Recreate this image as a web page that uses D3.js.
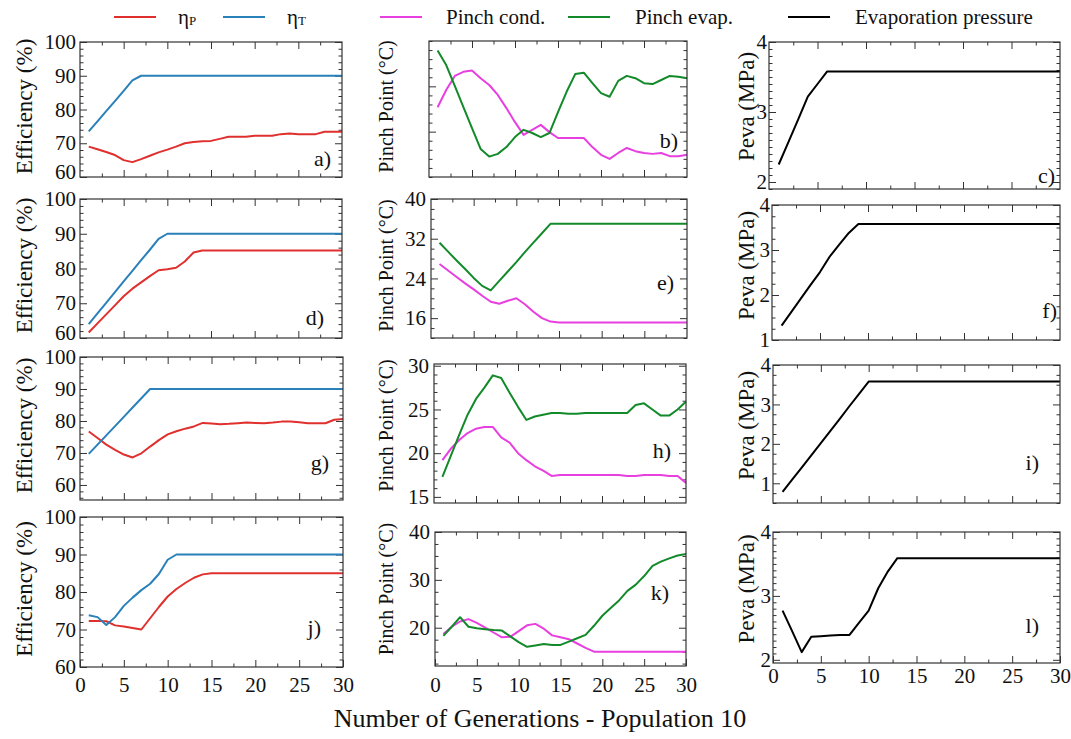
<!DOCTYPE html>
<html>
<head>
<meta charset="utf-8">
<script src="https://cdn.jsdelivr.net/npm/d3@7"></script>
<style>
  body { margin: 0; background: #fff; }
  svg text { font-family: "Liberation Serif", "Times New Roman", serif; fill: #111; }
  .frame { fill: none; stroke: #333; stroke-width: 1.2; }
  .axis line { stroke: #333; stroke-width: 1; }
  .axis path { display: none; }
  .series { fill: none; stroke-width: 2; stroke-linejoin: round; }
</style>
</head>
<body>
<div id="chart"></div>
<script>
// Generations on the x axis
const generations = [1,2,3,4,5,6,7,8,9,10,11,12,13,14,15,16,17,18,19,20,21,22,23,24,25,26,27,28,29,30];
const xTicks = [0, 5, 10, 15, 20, 25, 30];

// Row 1
const etaP_a = [69.0,68.2,67.4,66.5,65.0,64.4,65.3,66.3,67.3,68.1,69.0,70.0,70.4,70.6,70.7,71.3,71.9,71.9,71.9,72.2,72.2,72.2,72.7,72.9,72.7,72.7,72.7,73.4,73.4,73.4];
const etaT_a = [73.5,76.5,79.5,82.5,85.5,88.6,90,90,90,90,90,90,90,90,90,90,90,90,90,90,90,90,90,90,90,90,90,90,90,90];
const pinchCond_b = [25.4,29.2,32.3,33.2,33.5,31.8,30.3,28.1,25.2,22.1,19.3,20.4,21.5,19.9,18.6,18.6,18.6,18.6,16.6,14.9,14.0,15.3,16.4,15.7,15.3,15.1,15.3,14.6,14.6,14.9];
const pinchEvap_b = [37.9,34.7,30.1,25.4,20.8,16.2,14.5,15.1,16.6,18.8,20.4,19.7,18.8,19.7,24.3,28.8,32.7,33.0,30.7,28.5,27.7,31.2,32.3,31.8,30.7,30.5,31.4,32.3,32.1,31.8];
const peva_c = [2.25,2.57,2.89,3.22,3.40,3.58,3.58,3.58,3.58,3.58,3.58,3.58,3.58,3.58,3.58,3.58,3.58,3.58,3.58,3.58,3.58,3.58,3.58,3.58,3.58,3.58,3.58,3.58,3.58,3.58];

// Row 2
const etaP_d = [61.6,64.2,66.8,69.4,72.0,74.2,76.0,77.8,79.5,79.8,80.2,82.0,84.6,85.2,85.2,85.2,85.2,85.2,85.2,85.2,85.2,85.2,85.2,85.2,85.2,85.2,85.2,85.2,85.2,85.2];
const etaT_d = [64.0,67.1,70.1,73.2,76.3,79.3,82.4,85.4,88.5,90,90,90,90,90,90,90,90,90,90,90,90,90,90,90,90,90,90,90,90,90];
const pinchCond_e = [26.9,25.6,24.3,23.0,21.8,20.5,19.3,18.9,19.5,20.0,18.8,17.3,16.0,15.3,15.1,15.1,15.1,15.1,15.1,15.1,15.1,15.1,15.1,15.1,15.1,15.1,15.1,15.1,15.1,15.1];
const pinchEvap_e = [31.2,29.4,27.6,25.9,24.1,22.5,21.6,23.5,25.4,27.3,29.3,31.2,33.1,35.0,35.0,35.0,35.0,35.0,35.0,35.0,35.0,35.0,35.0,35.0,35.0,35.0,35.0,35.0,35.0,35.0];
const peva_f = [1.32,1.62,1.92,2.22,2.51,2.85,3.12,3.38,3.58,3.58,3.58,3.58,3.58,3.58,3.58,3.58,3.58,3.58,3.58,3.58,3.58,3.58,3.58,3.58,3.58,3.58,3.58,3.58,3.58,3.58];

// Row 3
const etaP_g = [76.7,74.7,72.6,71.0,69.5,68.6,69.9,72.0,74.0,75.8,76.8,77.6,78.3,79.4,79.2,79.0,79.1,79.3,79.5,79.4,79.3,79.5,79.8,79.8,79.6,79.3,79.3,79.3,80.4,80.6];
const etaT_g = [69.7,72.6,75.5,78.4,81.3,84.2,87.1,90,90,90,90,90,90,90,90,90,90,90,90,90,90,90,90,90,90,90,90,90,90,90];
const pinchCond_h = [19.2,20.5,21.5,22.3,22.8,23.0,23.0,21.8,21.2,20.0,19.2,18.5,18.0,17.4,17.5,17.5,17.5,17.5,17.5,17.5,17.5,17.5,17.4,17.4,17.5,17.5,17.5,17.4,17.4,16.6];
const pinchEvap_h = [17.3,19.7,22.1,24.4,26.2,27.5,28.9,28.6,26.9,25.3,23.8,24.2,24.4,24.6,24.6,24.5,24.5,24.6,24.6,24.6,24.6,24.6,24.6,25.5,25.7,25.0,24.3,24.3,25.0,25.9];
const peva_i = [0.78,1.09,1.40,1.71,2.02,2.33,2.64,2.96,3.27,3.58,3.58,3.58,3.58,3.58,3.58,3.58,3.58,3.58,3.58,3.58,3.58,3.58,3.58,3.58,3.58,3.58,3.58,3.58,3.58,3.58];

// Row 4
const etaP_j = [72.3,72.3,72.2,71.1,70.8,70.4,70.0,73.0,76.0,78.8,80.8,82.4,83.8,84.7,85.0,85.0,85.0,85.0,85.0,85.0,85.0,85.0,85.0,85.0,85.0,85.0,85.0,85.0,85.0,85.0];
const etaT_j = [73.8,73.3,71.2,73.3,76.3,78.5,80.5,82.2,84.8,88.6,90,90,90,90,90,90,90,90,90,90,90,90,90,90,90,90,90,90,90,90];
const pinchCond_k = [18.7,20.2,21.3,21.8,21.0,20.0,19.0,18.0,18.1,19.3,20.5,20.8,19.8,18.4,18.0,17.6,16.7,15.8,15.0,15.0,15.0,15.0,15.0,15.0,15.0,15.0,15.0,15.0,15.0,15.0];
const pinchEvap_k = [18.3,20.2,22.2,20.2,19.9,19.7,19.5,19.4,18.2,17.0,16.0,16.3,16.6,16.4,16.4,17.1,17.8,18.5,20.4,22.5,24.1,25.7,27.7,29.0,30.8,32.9,33.8,34.5,35.1,35.4];
const peva_l = [2.77,2.45,2.12,2.36,2.37,2.38,2.39,2.39,2.58,2.77,3.12,3.38,3.59,3.59,3.59,3.59,3.59,3.59,3.59,3.59,3.59,3.59,3.59,3.59,3.59,3.59,3.59,3.59,3.59,3.59];

// Y tick values per panel
const effTicks = [60, 70, 80, 90, 100];
const pinchTicks_b = [20, 30];
const pinchTicks_e = [16, 24, 32, 40];
const pinchTicks_h = [15, 20, 25, 30];
const pinchTicks_k = [20, 30, 40];
const pevaTicks_c = [2, 3, 4];
const pevaTicks_f = [1, 2, 3, 4];
const pevaTicks_l = [2, 3, 4];

const colors = { etaP: '#e0302e', etaT: '#2a80b9', cond: '#e83fe0', evap: '#138a2a', peva: '#000' };

// Panel layout (pixel rectangles of the plot frames)
const panels = [
  { id: 'a)', r: [80, 42, 342, 177],  dom: [60, 100], ticks: effTicks, minor: 2, pad: 4, lowShift: -5, series: [[etaP_a, 'etaP'], [etaT_a, 'etaT']], lab: [331, 166] },
  { id: 'b)', r: [429, 41, 687, 177], dom: [10, 40], ticks: pinchTicks_b, minor: 2, pad: 5, noY: true, series: [[pinchCond_b, 'cond'], [pinchEvap_b, 'evap']], lab: [678, 148] },
  { id: 'c)', r: [769, 42, 1060, 189], dom: [1.9, 4], ticks: pevaTicks_c, minor: 0.1, pad: 2, series: [[peva_c, 'peva']], lab: [1055, 183] },

  { id: 'd)', r: [80, 199, 342, 338], dom: [60, 100], ticks: effTicks, minor: 2, pad: 4, lowShift: -5, series: [[etaP_d, 'etaP'], [etaT_d, 'etaT']], lab: [324, 325] },
  { id: 'e)', r: [431, 199, 687, 338], dom: [12, 40], ticks: pinchTicks_e, minor: 2, pad: 5, series: [[pinchCond_e, 'cond'], [pinchEvap_e, 'evap']], lab: [674, 290] },
  { id: 'f)', r: [772, 205, 1060, 340], dom: [1, 4], ticks: pevaTicks_f, minor: 0.25, pad: 2, series: [[peva_f, 'peva']], lab: [1057, 318] },

  { id: 'g)', r: [80, 357, 343, 500], dom: [55.3, 100], ticks: effTicks, minor: 2, pad: 4, series: [[etaP_g, 'etaP'], [etaT_g, 'etaT']], lab: [329, 470] },
  { id: 'h)', r: [434, 364, 686, 503], dom: [14.3, 30.2], ticks: pinchTicks_h, minor: 1, pad: 5, series: [[pinchCond_h, 'cond'], [pinchEvap_h, 'evap']], lab: [671, 458] },
  { id: 'i)', r: [773, 365, 1060, 503], dom: [0.5, 4], ticks: pevaTicks_f, minor: 0.25, pad: 2, series: [[peva_i, 'peva']], lab: [1039, 470] },

  { id: 'j)', r: [80, 517, 343, 667], dom: [60, 100], ticks: effTicks, minor: 2, pad: 4, series: [[etaP_j, 'etaP'], [etaT_j, 'etaT']], lab: [321, 635], xlab: 10 },
  { id: 'k)', r: [435, 532, 686, 666], dom: [12, 40], ticks: pinchTicks_k, minor: 2.5, pad: 5, series: [[pinchCond_k, 'cond'], [pinchEvap_k, 'evap']], lab: [669, 600], xlab: 11 },
  { id: 'l)', r: [773, 532, 1060, 663], dom: [1.95, 4], ticks: pevaTicks_l, minor: 0.1, pad: 2, series: [[peva_l, 'peva']], lab: [1039, 633], xlab: 5 }
];

const svg = d3.select('#chart').append('svg')
  .attr('width', 1071)
  .attr('height', 739);

function minorValues(dom, step, majors) {
  const out = [];
  const start = Math.ceil(dom[0] / step - 1e-9) * step;
  for (let v = start; v <= dom[1] + 1e-9; v += step) {
    const vv = +v.toFixed(4);
    if (!majors.some(m => Math.abs(m - vv) < 1e-6)) out.push(vv);
  }
  return out;
}

panels.forEach(p => {
  const [x0, y0, x1, y1] = p.r;
  const w = x1 - x0, h = y1 - y0;
  const g = svg.append('g').attr('transform', `translate(${x0},${y0})`);

  const x = d3.scaleLinear().domain([0, 30]).range([0, w]);
  const y = d3.scaleLinear().domain(p.dom).range([h, 0]);

  const xMinor = [2.5, 7.5, 12.5, 17.5, 22.5, 27.5];
  const xMajorIn = [5, 10, 15, 20, 25];
  const yMinor = minorValues(p.dom, p.minor, p.ticks);

  // bottom axis (labels only on the last row)
  g.append('g').attr('class', 'axis').attr('transform', `translate(0,${h})`)
    .call(d3.axisBottom(x).tickValues(p.xlab ? xTicks : xMajorIn).tickSizeInner(-7).tickSizeOuter(0)
      .tickPadding(p.xlab || 3).tickFormat(p.xlab ? d3.format('d') : ''))
    .call(s => s.selectAll('text').attr('font-size', 21));
  g.append('g').attr('class', 'axis').attr('transform', `translate(0,${h})`)
    .call(d3.axisBottom(x).tickValues(xMinor).tickSizeInner(-3.5).tickSizeOuter(0).tickFormat(''));

  // top axis
  g.append('g').attr('class', 'axis')
    .call(d3.axisTop(x).tickValues(xMajorIn).tickSizeInner(-7).tickSizeOuter(0).tickFormat(''));
  g.append('g').attr('class', 'axis')
    .call(d3.axisTop(x).tickValues(xMinor).tickSizeInner(-3.5).tickSizeOuter(0).tickFormat(''));

  // left axis
  const left = g.append('g').attr('class', 'axis')
    .call(d3.axisLeft(y).tickValues(p.ticks).tickSizeInner(-7).tickSizeOuter(0).tickPadding(p.pad)
      .tickFormat(p.noY ? '' : d3.format('d')));
  left.selectAll('text').attr('font-size', 21);
  if (p.lowShift) {
    left.selectAll('.tick').filter(d => d === p.ticks[0]).select('text')
      .attr('y', p.lowShift);
  }
  g.append('g').attr('class', 'axis')
    .call(d3.axisLeft(y).tickValues(yMinor).tickSizeInner(-3.5).tickSizeOuter(0).tickFormat(''));

  // right axis
  g.append('g').attr('class', 'axis').attr('transform', `translate(${w},0)`)
    .call(d3.axisRight(y).tickValues(p.ticks).tickSizeInner(-7).tickSizeOuter(0).tickFormat(''));
  g.append('g').attr('class', 'axis').attr('transform', `translate(${w},0)`)
    .call(d3.axisRight(y).tickValues(yMinor).tickSizeInner(-3.5).tickSizeOuter(0).tickFormat(''));

  // lines
  const line = d3.line()
    .x((d, i) => x(generations[i]))
    .y(d => y(d));
  p.series.forEach(([vals, key]) => {
    g.append('path')
      .datum(vals)
      .attr('class', 'series')
      .attr('stroke', colors[key])
      .attr('d', line);
  });

  g.append('rect').attr('class', 'frame').attr('width', w).attr('height', h);

  // panel label
  svg.append('text')
    .attr('x', p.lab[0]).attr('y', p.lab[1])
    .attr('text-anchor', 'end')
    .attr('font-size', 22)
    .text(p.id);
});

// Y axis titles
const rowsY = [[42, 177], [199, 338], [357, 500], [517, 667]];
const titles = [
  { text: 'Efficiency (%)', x: 24, size: 23 },
  { text: 'Pinch Point (°C)', x: 386, size: 20 },
  { text: 'Peva (MPa)', x: 746, size: 23 }
];
rowsY.forEach(([t, b]) => {
  titles.forEach(tt => {
    const cy = (t + b) / 2 - 3;
    svg.append('text')
      .attr('transform', `translate(${tt.x},${cy}) rotate(-90)`)
      .attr('text-anchor', 'middle')
      .attr('dominant-baseline', 'central')
      .attr('font-size', tt.size)
      .text(tt.text);
  });
});

// X axis title
svg.append('text')
  .attr('x', 540).attr('y', 727)
  .attr('text-anchor', 'middle')
  .attr('font-size', 26)
  .text('Number of Generations - Population 10');

// Legend
const legend = [
  { key: 'etaP', x: 114, label: 'η', sub: 'P', tx: 178 },
  { key: 'etaT', x: 223, label: 'η', sub: 'T', tx: 287 },
  { key: 'cond', x: 380, label: 'Pinch cond.', tx: 446 },
  { key: 'evap', x: 568, label: 'Pinch evap.', tx: 635 },
  { key: 'peva', x: 788, label: 'Evaporation pressure', tx: 855 }
];
legend.forEach(l => {
  svg.append('line')
    .attr('x1', l.x).attr('x2', l.x + 42)
    .attr('y1', 17).attr('y2', 17)
    .attr('stroke', colors[l.key]).attr('stroke-width', 2);
  const t = svg.append('text')
    .attr('x', l.tx).attr('y', 24)
    .attr('font-size', 21)
    .text(l.label);
  if (l.sub) {
    t.append('tspan').attr('font-size', 13).attr('dy', 1).text(l.sub);
  }
});
</script>
</body>
</html>
